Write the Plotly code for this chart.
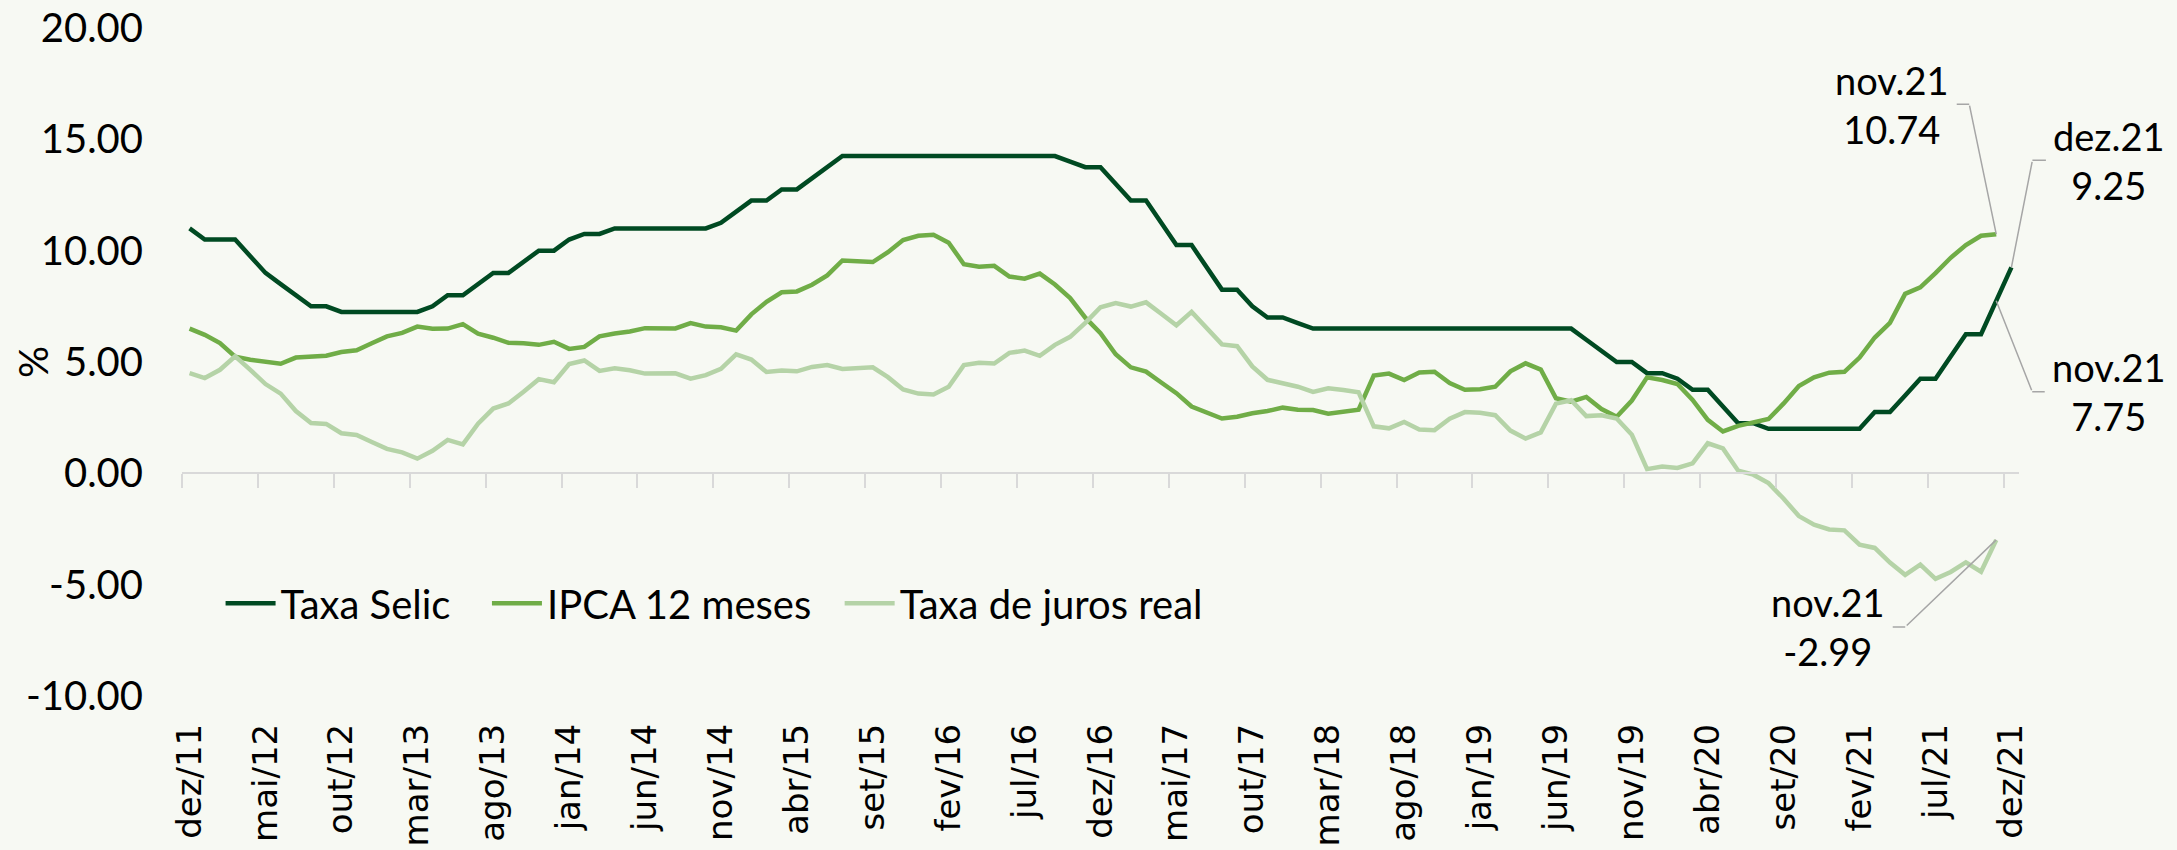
import plotly.graph_objects as go

month_names = ["jan", "fev", "mar", "abr", "mai", "jun", "jul", "ago", "set", "out", "nov", "dez"]
categories = ["dez/11"] + [f"{m}/{y:02d}" for y in range(12, 22) for m in month_names]

selic = [11.00, 10.50, 10.50, 10.50, 9.75, 9.00, 8.50, 8.00, 7.50, 7.50, 7.25, 7.25,
         7.25, 7.25, 7.25, 7.25, 7.50, 8.00, 8.00, 8.50, 9.00, 9.00, 9.50, 10.00,
         10.00, 10.50, 10.75, 10.75, 11.00, 11.00, 11.00, 11.00, 11.00, 11.00, 11.00, 11.25,
         11.75, 12.25, 12.25, 12.75, 12.75, 13.25, 13.75, 14.25, 14.25, 14.25, 14.25, 14.25,
         14.25, 14.25, 14.25, 14.25, 14.25, 14.25, 14.25, 14.25, 14.25, 14.25, 14.00, 13.75,
         13.75, 13.00, 12.25, 12.25, 11.25, 10.25, 10.25, 9.25, 8.25, 8.25, 7.50, 7.00,
         7.00, 6.75, 6.50, 6.50, 6.50, 6.50, 6.50, 6.50, 6.50, 6.50, 6.50, 6.50,
         6.50, 6.50, 6.50, 6.50, 6.50, 6.50, 6.50, 6.50, 6.00, 5.50, 5.00, 5.00,
         4.50, 4.50, 4.25, 3.75, 3.75, 3.00, 2.25, 2.25, 2.00, 2.00, 2.00, 2.00,
         2.00, 2.00, 2.00, 2.75, 2.75, 3.50, 4.25, 4.25, 5.25, 6.25, 6.25, 7.75,
         9.25]

ipca = [6.50, 6.22, 5.85, 5.24, 5.10, 4.99, 4.92, 5.20, 5.24, 5.28, 5.45, 5.53,
        5.84, 6.15, 6.31, 6.59, 6.49, 6.50, 6.70, 6.27, 6.09, 5.86, 5.84, 5.77,
        5.91, 5.59, 5.68, 6.15, 6.28, 6.37, 6.52, 6.50, 6.51, 6.75, 6.59, 6.56,
        6.41, 7.14, 7.70, 8.13, 8.17, 8.47, 8.89, 9.56, 9.53, 9.49, 9.93, 10.48,
        10.67, 10.71, 10.36, 9.39, 9.28, 9.32, 8.84, 8.74, 8.97, 8.48, 7.87, 6.99,
        6.29, 5.35, 4.76, 4.57, 4.08, 3.60, 3.00, 2.71, 2.46, 2.54, 2.70, 2.80,
        2.95, 2.86, 2.84, 2.68, 2.76, 2.86, 4.39, 4.48, 4.19, 4.53, 4.56, 4.05,
        3.75, 3.78, 3.89, 4.58, 4.94, 4.66, 3.37, 3.22, 3.43, 2.89, 2.54, 3.27,
        4.31, 4.19, 4.01, 3.30, 2.40, 1.88, 2.13, 2.31, 2.44, 3.14, 3.92, 4.31,
        4.52, 4.56, 5.20, 6.10, 6.76, 8.06, 8.35, 8.99, 9.68, 10.25, 10.67, 10.74]

juros_real = [4.50, 4.28, 4.65, 5.26, 4.65, 4.01, 3.58, 2.80, 2.26, 2.22, 1.80, 1.72,
              1.41, 1.10, 0.94, 0.66, 1.01, 1.50, 1.30, 2.23, 2.91, 3.14, 3.66, 4.23,
              4.09, 4.91, 5.07, 4.60, 4.72, 4.63, 4.48, 4.50, 4.49, 4.25, 4.41, 4.69,
              5.34, 5.11, 4.55, 4.62, 4.58, 4.78, 4.86, 4.69, 4.72, 4.76, 4.32, 3.77,
              3.58, 3.54, 3.89, 4.86, 4.97, 4.93, 5.41, 5.51, 5.28, 5.77, 6.13, 6.76,
              7.46, 7.65, 7.49, 7.68, 7.17, 6.65, 7.25, 6.54, 5.79, 5.71, 4.80, 4.20,
              4.05, 3.89, 3.66, 3.82, 3.74, 3.64, 2.11, 2.02, 2.31, 1.97, 1.94, 2.45,
              2.75, 2.72, 2.61, 1.92, 1.56, 1.84, 3.13, 3.28, 2.57, 2.61, 2.46, 1.73,
              0.19, 0.31, 0.24, 0.45, 1.35, 1.12, 0.12, -0.06, -0.44, -1.14, -1.92, -2.31,
              -2.52, -2.56, -3.20, -3.35, -4.01, -4.56, -4.10, -4.74, -4.43, -4.00, -4.42, -2.99]

y_tickvals = [-10, -5, 0, 5, 10, 15, 20]
y_ticktext = ["-10.00", "-5.00", "0.00", "5.00", "10.00", "15.00", "20.00"]

C_SELIC = "#004A22"
C_IPCA = "#70AD47"
C_REAL = "#B5D3A7"
BG = "#F7F9F3"
GRAY = "#D9D9D9"
LEADER = "#A6A6A6"
FONT = "Lato"

fig = go.Figure()
fig.add_trace(go.Scatter(x=categories, y=selic, name="Taxa Selic", mode="lines",
                         line=dict(color=C_SELIC, width=4.5), legend="legend"))
fig.add_trace(go.Scatter(x=categories[:len(ipca)], y=ipca, name="IPCA 12 meses", mode="lines",
                         line=dict(color=C_IPCA, width=4.5), legend="legend2"))
fig.add_trace(go.Scatter(x=categories[:len(juros_real)], y=juros_real, name="Taxa de juros real",
                         mode="lines", line=dict(color=C_REAL, width=4.5), legend="legend3"))
# invisible trace carrying the categories for the axis drawn at y = 0
fig.add_trace(go.Scatter(x=categories, y=selic, xaxis="x2", mode="lines",
                         line=dict(width=0, color="rgba(0,0,0,0)"), showlegend=False,
                         hoverinfo="skip"))

leg_common = dict(orientation="h", xanchor="left", y=0.139, yanchor="middle",
                  bgcolor="rgba(0,0,0,0)", font=dict(family=FONT, size=40, color="#000000"),
                  itemwidth=50)

fig.update_layout(
    width=2177, height=850, autosize=False,
    margin=dict(l=182, r=158, t=28, b=154),
    paper_bgcolor=BG, plot_bgcolor=BG,
    font=dict(family=FONT, size=38, color="#000000"),
    showlegend=True,
    legend=dict(x=0.021, **leg_common),
    legend2=dict(x=0.166, **leg_common),
    legend3=dict(x=0.358, **leg_common),
    xaxis=dict(type="category", range=[-0.5, 120.5], tickmode="linear", tick0=0, dtick=5,
               tickangle=-90, tickfont=dict(family="DejaVu Sans", size=34, color="#000000"),
               showline=False, showgrid=False, zeroline=False, ticks="",
               ticklabelstandoff=20, automargin=False),
    xaxis2=dict(type="category", overlaying="x", anchor="free", position=1/3,
                range=[-0.5, 120.5], tickmode="linear", tick0=0, dtick=5,
                tickson="boundaries", ticks="outside", ticklen=14, tickwidth=2,
                tickcolor=GRAY, showline=True, linecolor=GRAY, linewidth=2,
                showticklabels=False, showgrid=False, zeroline=False, automargin=False),
    yaxis=dict(range=[-10, 20], tickmode="array", tickvals=y_tickvals, ticktext=y_ticktext,
               showgrid=False, zeroline=False, showline=False, ticks="",
               ticklabelstandoff=38, ticklabeloverflow="allow",
               tickfont=dict(family=FONT, size=40, color="#000000"),
               automargin=False),
)

# y-axis title
fig.add_annotation(text="%", xref="paper", x=0, xshift=-149, xanchor="center",
                   yref="y", y=5, yanchor="middle",
                   textangle=-90, showarrow=False, font=dict(family=FONT, size=40))

lead = dict(showarrow=True, arrowhead=0, arrowwidth=1.5, arrowcolor=LEADER, standoff=0,
            xref="x", yref="y")

def label(idx, val, series_text, dx, dy, tx):
    cat = categories[idx]
    # diagonal leader from the elbow to the data point
    fig.add_annotation(x=cat, y=val, text="", ax=dx, ay=dy, **lead)
    # text with short horizontal leader to the elbow
    fig.add_annotation(x=cat, y=val, text=series_text, xshift=dx, yshift=-dy,
                       ax=tx, ay=0, startstandoff=6, align="center",
                       font=dict(family=FONT, size=38, color="#000000"), **lead)

label(119, ipca[119], "nov.21<br>10.74", -27, -130, -77)
label(120, selic[120], "dez.21<br>9.25", 21, -107, 77)
label(119, selic[119], "nov.21<br>7.75", 36, 91, 77)
label(119, juros_real[119], "nov.21<br>-2.99", -91, 87, -77)

fig.write_html("out.html",
               config={"displayModeBar": False},
               post_script="document.body.style.margin='0px';"
                           "document.body.style.background='#F7F9F3';")
